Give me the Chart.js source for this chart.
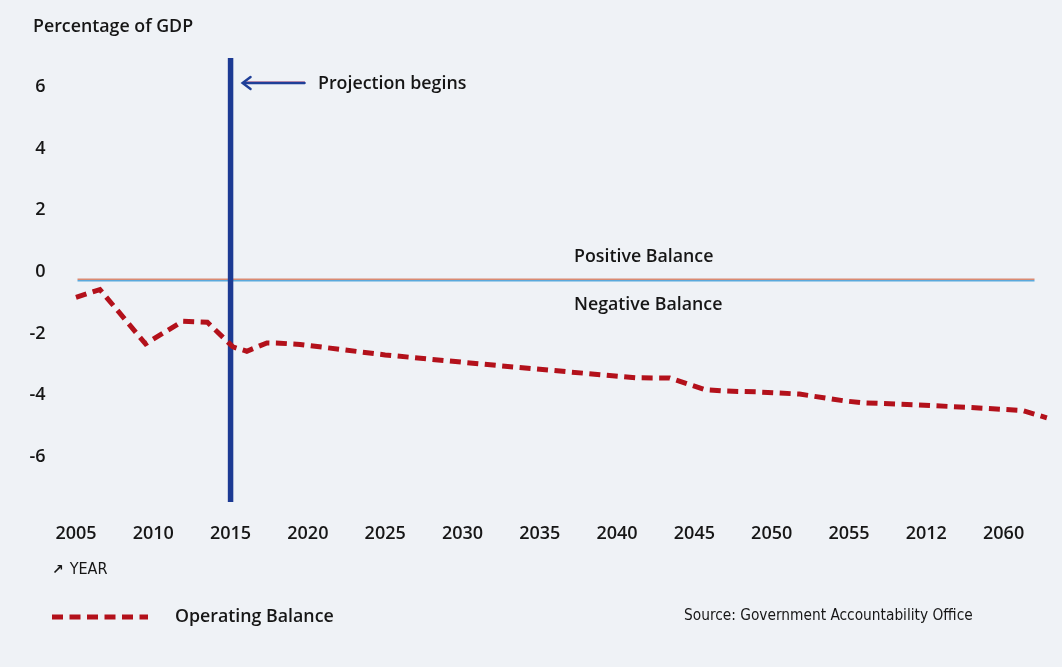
<!DOCTYPE html>
<html>
<head>
<meta charset="utf-8">
<script src="https://cdn.jsdelivr.net/npm/chart.js@4"></script>
<style>
  html, body { margin: 0; padding: 0; }
  body { width: 1062px; height: 667px; background: #eff2f6; position: relative; overflow: hidden;
         font-family: "Open Sans", "Noto Sans", sans-serif; color: #161616; }
  #chartBox { position: absolute; left: 0; top: 0; width: 1062px; height: 667px; }
  .lbl { position: absolute; white-space: nowrap; transform: translateY(-50%); line-height: 1; }
  .main { font-size: 17.8px; font-weight: 600; }
  .narrow { font-family: "Liberation Sans Narrow", "DejaVu Sans Condensed", sans-serif; font-size: 15.3px; }
</style>
</head>
<body>
<div id="chartBox"><canvas id="myChartBalance" width="1062" height="667"></canvas></div>

<div class="lbl main" style="left:33px; top:26px;">Percentage of GDP</div>
<div class="lbl main" style="left:318px; top:83px;">Projection begins</div>
<div class="lbl main" style="left:574px; top:256px;">Positive Balance</div>
<div class="lbl main" style="left:574px; top:304px;">Negative Balance</div>
<div class="lbl narrow" style="left:52px; top:569px; font-size:16px;"><b style="font-family:'DejaVu Sans',sans-serif;font-size:14px;margin-right:6px;">&#x2197;</b>YEAR</div>
<div class="lbl narrow" style="left:684px; top:616px;">Source: Government Accountability Office</div>

<script>
// Datos del gráfico
const tickYears = [2005, 2010, 2015, 2020, 2025, 2030, 2035, 2040, 2045, 2050, 2055, 2060, 2065]
const tickLabels = ['2005', '2010', '2015', '2020', '2025', '2030', '2035', '2040', '2045', '2050', '2055', '2012', '2060']
const yTicks = [-6, -4, -2, 0, 2, 4, 6]

const years = [2005, 2006.55, 2009.5, 2011.9, 2013.5, 2015.15, 2016.05, 2017.35, 2018.2, 2019.5, 2025,
               2032.4, 2038.9, 2041.2, 2043.4, 2045.7, 2046.85, 2049.1, 2051.8, 2054.7, 2055.8,
               2059.3, 2062.7, 2066.2, 2067.8]
const balance = [-0.56, -0.31, -2.07, -1.34, -1.37, -2.17, -2.31, -2.04, -2.05, -2.09, -2.43,
                 -2.78, -3.07, -3.17, -3.18, -3.56, -3.60, -3.63, -3.70, -3.92, -3.98,
                 -4.05, -4.13, -4.23, -4.47]

const projectionYear = 2015
const zeroFrom = 2005.1
const zeroTo = 2067
const yMin = -7.2
const yMax = 7.2

const mainFont = '"Open Sans", "Noto Sans", sans-serif'
const ctx = document.getElementById('myChartBalance')

// linea de cero (dos tonos), flecha de proyeccion y leyenda
const extras = {
    id: 'extras',
    beforeDatasetsDraw(chart) {
        const x = chart.scales.x
        const y = chart.scales.y
        const c = chart.ctx
        const y0 = y.getPixelForValue(0)
        c.save()
        c.lineWidth = 1.4
        c.strokeStyle = '#d98a72'
        c.beginPath()
        c.moveTo(x.getPixelForValue(zeroFrom), y0 - 0.7)
        c.lineTo(x.getPixelForValue(zeroTo), y0 - 0.7)
        c.stroke()
        c.strokeStyle = '#5aa9dc'
        c.beginPath()
        c.moveTo(x.getPixelForValue(zeroFrom), y0 + 0.7)
        c.lineTo(x.getPixelForValue(zeroTo), y0 + 0.7)
        c.stroke()
        c.restore()
    },
    afterDatasetsDraw(chart) {
        const x = chart.scales.x
        const c = chart.ctx
        const tip = x.getPixelForValue(projectionYear) + 12
        const ay = 83
        c.save()
        c.lineCap = 'round'
        c.strokeStyle = '#e6a3b3'
        c.lineWidth = 1
        c.beginPath()
        c.moveTo(tip + 4, ay - 1.5)
        c.lineTo(tip + 62, ay - 1.5)
        c.stroke()
        c.strokeStyle = '#1f3f98'
        c.lineWidth = 2.4
        c.beginPath()
        c.moveTo(tip + 1, ay)
        c.lineTo(tip + 62, ay)
        c.stroke()
        c.beginPath()
        c.moveTo(tip + 8, ay - 6)
        c.lineTo(tip, ay)
        c.lineTo(tip + 8, ay + 6)
        c.stroke()

        // leyenda
        const ds = chart.data.datasets[0]
        c.strokeStyle = ds.borderColor
        c.lineWidth = ds.borderWidth
        c.lineCap = 'butt'
        c.setLineDash(ds.borderDash)
        c.beginPath()
        c.moveTo(52, 617)
        c.lineTo(148, 617)
        c.stroke()
        c.setLineDash([])
        c.fillStyle = '#161616'
        c.font = '600 17.8px ' + mainFont
        c.textBaseline = 'middle'
        c.fillText(ds.label, 175, 617)
        c.restore()
    }
}

const myChart = new Chart(ctx, {
    type: 'line',
    data: {
        datasets: [{
            label: 'Operating Balance',
            data: years.map((yr, i) => ({ x: yr, y: balance[i] })),
            borderColor: '#b3111b',
            borderWidth: 5,
            borderDash: [11, 6.5],
            pointRadius: 0,
            tension: 0,
            order: 0
        }, {
            label: 'Projection begins',
            data: [{ x: projectionYear, y: yMax }, { x: projectionYear, y: yMin }],
            borderColor: '#1c3a93',
            borderWidth: 5.5,
            pointRadius: 0,
            order: 1
        }]
    },
    options: {
        responsive: false,
        animation: false,
        layout: { padding: { left: 0, right: 4.3, top: 58, bottom: 0 } },
        plugins: { legend: { display: false }, tooltip: { enabled: false } },
        scales: {
            x: {
                type: 'linear',
                min: 2004,
                max: 2068.5,
                grid: { display: false, drawTicks: false },
                border: { display: false },
                afterBuildTicks: (s) => { s.ticks = tickYears.map(v => ({ value: v })) },
                afterFit: (s) => { s.height = 165 },
                ticks: {
                    padding: 21,
                    color: '#161616',
                    font: { family: mainFont, size: 18, weight: 600 },
                    maxRotation: 0,
                    autoSkip: false,
                    callback: (v) => tickLabels[tickYears.indexOf(v)]
                }
            },
            y: {
                min: yMin,
                max: yMax,
                grid: { display: false, drawTicks: false },
                border: { display: false },
                afterBuildTicks: (s) => { s.ticks = yTicks.map(v => ({ value: v })) },
                afterFit: (s) => { s.width = 60.5 },
                ticks: {
                    padding: 15,
                    labelOffset: -8,
                    color: '#161616',
                    font: { family: mainFont, size: 18, weight: 600 }
                }
            }
        }
    },
    plugins: [extras]
})
</script>
</body>
</html>
